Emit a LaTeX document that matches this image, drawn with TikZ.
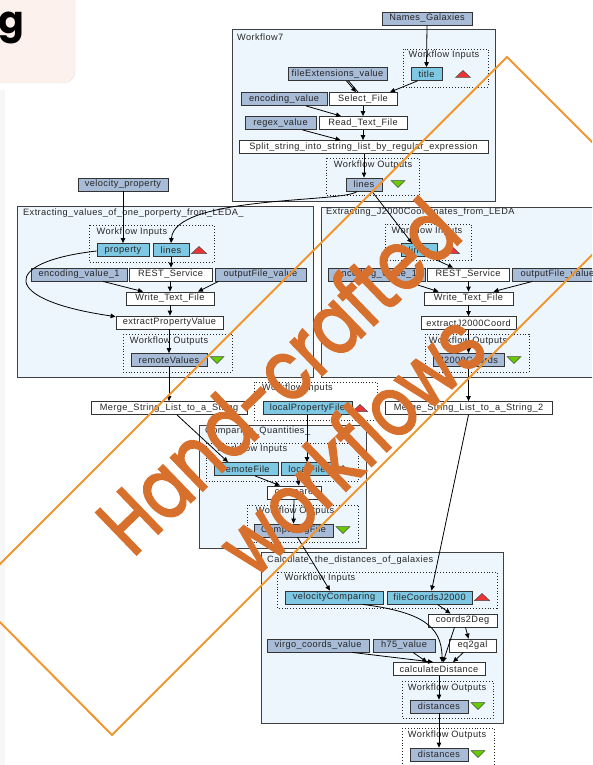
\documentclass[tikz,border=0pt]{standalone}
\usepackage{fontspec}
\setmainfont{Liberation Sans}
\newfontfamily\dfont{Liberation Sans}[LetterSpace=4.5]
\newfontfamily\handfont{Poppins}
\newfontfamily\markerfont{Poppins}[FakeBold=2.2]
\usetikzlibrary{arrows.meta,calc}

\definecolor{inblue}{RGB}{126,200,227}
\definecolor{cstblue}{RGB}{168,188,216}
\definecolor{clusterfill}{RGB}{238,246,253}
\definecolor{trired}{RGB}{236,52,52}
\definecolor{trigreen}{RGB}{102,204,0}
\definecolor{framecol}{RGB}{242,150,48}
\definecolor{handcol}{RGB}{214,112,44}
\definecolor{cardpink}{RGB}{252,241,236}

% small triangles marking workflow inputs (up) and outputs (down)
\newcommand\uptri[2]{\draw[tri, fill=trired] (#1-7.5,#2+3.5) -- (#1+7.5,#2+3.5) -- (#1,#2-3.5) -- cycle;}
\newcommand\dntri[2]{\draw[tri, fill=trigreen] (#1-7,#2-3.5) -- (#1+7,#2-3.5) -- (#1,#2+3.5) -- cycle;}

\tikzset{
  dfnt/.style={font={\dfont\fontsize{9.2}{10}\selectfont}},
  box/.style={dfnt, draw=black!80, line width=0.8pt, inner sep=0pt, minimum height=13pt, text=black!85},
  inp/.style={box, fill=inblue},
  cst/.style={box, fill=cstblue},
  proc/.style={box, fill=white},
  cluster/.style={draw=black!75, line width=0.9pt, fill=clusterfill},
  port/.style={draw=black!85, dotted, line width=0.9pt},
  lbl/.style={dfnt, inner sep=0pt, text=black!85},
  tri/.style={draw=black!70, line width=0.5pt},
  conn/.style={draw=black, line width=0.8pt, -{Triangle[length=5pt,width=4.5pt]}},
  plain/.style={draw=black, line width=0.8pt},
  hand/.style={font={\markerfont\fontsize{84}{90}\selectfont}, text=handcol, inner sep=0pt},
}

\begin{document}
\begin{tikzpicture}[x=1pt,y=-1pt]
\useasboundingbox (0,0) rectangle (592,765);
\clip (0,0) rectangle (592,765);
\fill[white] (0,0) rectangle (592,765);

% slide furniture
\fill[black!3] (0,90) rectangle (5,765);
\draw[black!12, fill=cardpink, rounded corners=12pt] (-20,-20) -- (75,-20) -- (75,83) -- (-20,83);
\node[anchor=base east, inner sep=0pt, font={\handfont\bfseries\fontsize{38}{42}\selectfont}] (gletter) at (25,34) {g};

% ---------------- Workflow7 ----------------
\node[cst, minimum width=90pt] (names) at (427,18.5) {Names\_Galaxies};
\draw[cluster] (232,29) rectangle (495,201);
\node[lbl, anchor=west] (wf7lbl) at (237,37) {Workflow7};
\draw[port] (403,49) rectangle (488,87);
\node[lbl] (in7lbl) at (444,55) {Workflow Inputs};
\node[inp, minimum width=31pt] (title) at (426.5,74) {title};
\uptri{463}{74}
\node[cst, minimum width=99pt] (fileext) at (337.5,74) {fileExtensions\_value};
\node[cst, minimum width=86pt] (enc7) at (284,99) {encoding\_value};
\node[proc, minimum width=68pt] (select) at (363,99) {Select\_File};
\node[cst, minimum width=71pt] (regex) at (280.5,123) {regex\_value};
\node[proc, minimum width=88pt] (read) at (363,123) {Read\_Text\_File};
\node[proc, minimum width=249pt] (split) at (363.5,147) {Split\_string\_into\_string\_list\_by\_regular\_expression};
\draw[port] (326,158) rectangle (419,195);
\node[lbl] (out7lbl) at (373,165) {Workflow Outputs};
\node[cst, minimum width=36pt] (lines7) at (364,184.5) {lines};
\dntri{398}{184}

% ---------------- Extracting values ----------------
\node[cst, minimum width=90pt] (velprop) at (123,184.5) {velocity\_property};
\draw[cluster] (17,206) rectangle (313,377);
\node[lbl, anchor=west] (clLlbl) at (23,213) {Extracting\_values\_of\_one\_porperty\_from\_LEDA\_};
\draw[port] (89,225) rectangle (214,262);
\node[lbl] (inLlbl) at (132,232) {Workflow Inputs};
\node[inp, minimum width=52pt] (propL) at (123,250) {property};
\node[inp, minimum width=36pt] (linesL) at (171,250) {lines};
\uptri{199}{250}
\node[cst, minimum width=96pt] (encL) at (79,274.5) {encoding\_value\_1};
\node[proc, minimum width=83pt] (restL) at (170.5,274.5) {REST\_Service};
\node[cst, minimum width=91pt] (outfL) at (260.5,274.5) {outputFile\_value};
\node[proc, minimum width=88pt] (writeL) at (170,298.5) {Write\_Text\_File};
\node[proc, minimum width=107pt] (extractL) at (169.5,322.5) {extractPropertyValue};
\draw[port] (123,334) rectangle (232,372);
\node[lbl] (outLlbl) at (169,341) {Workflow Outputs};
\node[cst, minimum width=76pt] (remvals) at (169,360) {remoteValues};
\dntri{217}{360}

% ---------------- Extracting J2000 ----------------
\draw[cluster] (321,207) rectangle (600,377);
\node[lbl, anchor=west] (clRlbl) at (326,212) {Extracting\_J2000Coordinates\_from\_LEDA};
\draw[port] (385,224) rectangle (471,260);
\node[lbl] (inRlbl) at (427,231) {Workflow Inputs};
\node[inp, minimum width=36pt] (linesR) at (419,250) {lines};
\uptri{452}{250}
\node[cst, minimum width=97pt] (encR) at (376.5,274.5) {encoding\_value\_1};
\node[proc, minimum width=82pt] (restR) at (468,274.5) {REST\_Service};
\node[cst, minimum width=91pt] (outfR) at (557.5,274.5) {outputFile\_value};
\node[proc, minimum width=89pt] (writeR) at (468.5,298.5) {Write\_Text\_File};
\node[proc, minimum width=95pt] (extractR) at (468.5,323) {extractJ2000Coord};
\draw[port] (425,334) rectangle (529,372);
\node[lbl] (outRlbl) at (468,341) {Workflow Outputs};
\node[cst, minimum width=71pt] (j2000) at (468.5,360) {J2000Coords};
\dntri{514}{360}

% ---------------- merging row ----------------
\node[proc, minimum width=156pt] (merge1) at (169,408) {Merge\_String\_List\_to\_a\_String};
\draw[port] (254,382) rectangle (377,420);
\node[lbl] (inGlbl) at (297.5,388) {Workflow Inputs};
\node[inp, minimum width=89pt] (localprop) at (307.5,408) {localPropertyFile};
\uptri{360}{408}
\node[proc, minimum width=167pt] (merge2) at (468.5,408) {Merge\_String\_List\_to\_a\_String\_2};

% ---------------- Comparing ----------------
\draw[cluster] (199,425) rectangle (366,548);
\node[lbl, anchor=west] (clClbl) at (205,431) {Comparing\_Quantities\_};
\draw[port] (206,443) rectangle (358,481);
\node[lbl] (inClbl) at (252,449) {Workflow Inputs};
\node[inp, minimum width=64pt] (remfile) at (246,469) {remoteFile};
\node[inp, minimum width=52pt] (locfile) at (307,469) {localFile};
\uptri{343}{469}
\node[proc, minimum width=54pt] (compare) at (294,492.5) {compare};
\draw[port] (247,505) rectangle (358,542);
\node[lbl] (outClbl) at (295,511) {Workflow Outputs};
\node[cst, minimum width=79pt] (compfile) at (293.5,530.5) {ComparingFile};
\dntri{343}{530}

% ---------------- Calculate distances ----------------
\draw[cluster] (261,552) rectangle (503,723);
\node[lbl, anchor=west] (clDlbl) at (267,560) {Calculate\_the\_distances\_of\_galaxies};
\draw[port] (277,572) rectangle (497,608);
\node[lbl] (inDlbl) at (320,578) {Workflow Inputs};
\node[inp, minimum width=98pt] (velcomp) at (334,597.5) {velocityComparing};
\node[inp, minimum width=85pt] (filecoords) at (429.5,597.5) {fileCoordsJ2000};
\uptri{482}{597}
\node[proc, minimum width=69pt] (c2deg) at (462.5,620.5) {coords2Deg};
\node[cst, minimum width=102pt] (virgo) at (318,645.5) {virgo\_coords\_value};
\node[cst, minimum width=62pt] (h75) at (404,645.5) {h75\_value};
\node[proc, minimum width=47pt] (eq2gal) at (472.5,645.5) {eq2gal};
\node[proc, minimum width=92pt] (calc) at (439,669) {calculateDistance};
\draw[port] (402,681) rectangle (493,718);
\node[lbl] (outDlbl) at (447,688) {Workflow Outputs};
\node[cst, minimum width=58pt] (dist) at (439,706.5) {distances};
\dntri{478}{706}

% global outputs
\draw[port] (402,728) rectangle (494,780);
\node[lbl] (outGlbl) at (447,735) {Workflow Outputs};
\node[cst, minimum width=58pt] (distG) at (439,754.5) {distances};
\dntri{478}{754}

% ---------------- connectors ----------------
\draw[conn] (names.south) -- (title.north);
\draw[conn] ([xshift=-9]title.south) -- ([xshift=27]select.north);
\draw[conn] ([xshift=9]fileext.south) -- ([xshift=-7]select.north);
\draw[plain] ([xshift=11]fileext.south) -- ([xshift=-5]select.north);
\draw[conn] ([xshift=22]enc7.south) -- ([xshift=-22]read.north);
\draw[conn] (select.south) -- (read.north);
\draw[conn] ([xshift=22]regex.south) -- ([xshift=-23]split.north);
\draw[conn] (read.south) -- ([xshift=-0.5]split.north);
\draw[conn] ([xshift=0.5]split.south) -- (lines7.north);
\draw[conn] ([xshift=-7]lines7.south) .. controls (345,203) and (175,195) .. (linesL.north);
\draw[conn] ([xshift=8]lines7.south) -- ([xshift=-7]linesR.north);

\draw[conn] (velprop.south) -- (propL.north);
\draw[conn] ([yshift=-1]propL.west) .. controls (0,262) and (0,300) .. ([yshift=-1]extractL.north west);
\draw[conn] (linesL.south) -- ([xshift=0.5]restL.north);
\draw[conn] ([xshift=24]encL.south) -- ([xshift=-27]writeL.north);
\draw[conn] ([xshift=-0.5]restL.south) -- (writeL.north);
\draw[conn] ([xshift=-42]outfL.south) -- ([xshift=28]writeL.north);
\draw[conn] (writeL.south) -- ([xshift=0.5]extractL.north);
\draw[conn] ([xshift=-0.5]extractL.south) -- (remvals.north);
\draw[conn] (remvals.south) -- (merge1.north);

\draw[conn] ([xshift=11]linesR.south) -- ([xshift=-15]restR.north);
\draw[conn] ([xshift=30]encR.south) -- ([xshift=-30]writeR.north);
\draw[conn] ([xshift=0.5]restR.south) -- (writeR.north);
\draw[conn] ([xshift=-25]outfR.south) -- ([xshift=25]writeR.north);
\draw[conn] (writeR.south) -- (extractR.north);
\draw[conn] (extractR.south) -- (j2000.north);
\draw[conn] (j2000.south) -- (merge2.north);

\draw[conn] ([xshift=8]merge1.south) -- ([xshift=-18]remfile.north);
\draw[conn] ([xshift=-0.5]localprop.south) -- (locfile.north);
\draw[conn] ([xshift=9]remfile.south) -- ([xshift=-14]compare.north);
\draw[conn] ([xshift=-10]locfile.south) -- ([xshift=5]compare.north);
\draw[conn] (compare.south) -- (compfile.north);
\draw[conn] ([xshift=4]compfile.south) -- ([xshift=-4]velcomp.north);
\draw[conn] (merge2.south) -- ([xshift=2]filecoords.north);

\draw[conn] ([xshift=8]filecoords.south) -- ([xshift=-12]c2deg.north);
\draw[conn] ([xshift=29]velcomp.south) .. controls (420,612) and (442,625) .. ([xshift=3]calc.north);
\draw[conn] ([xshift=-8]c2deg.south) -- ([xshift=4]calc.north);
\draw[conn] ([xshift=3]c2deg.south) -- ([xshift=-4]eq2gal.north);
\draw[conn] ([xshift=-9]eq2gal.south) -- ([xshift=14]calc.north);
\draw[conn] ([xshift=34]virgo.south) -- ([xshift=-6]calc.north);
\draw[conn] ([xshift=9]h75.south) -- ([xshift=-12]calc.north);
\draw[conn] (calc.south) -- (dist.north);
\draw[conn] (dist.south) -- (distG.north);

% ---------------- overlay: frame and handwritten caption ----------------
\draw[framecol, line width=2pt, line join=miter] (507,57) -- (648.5,198.5) -- (112,735) -- (-29,593) -- cycle;
\node[hand, rotate=44, xscale=0.8] (hw1) at (277,375) {Hand-crafted};
\node[hand, rotate=44, xscale=0.8] (hw2) at (350,443) {workflows};
\end{tikzpicture}
\end{document}
